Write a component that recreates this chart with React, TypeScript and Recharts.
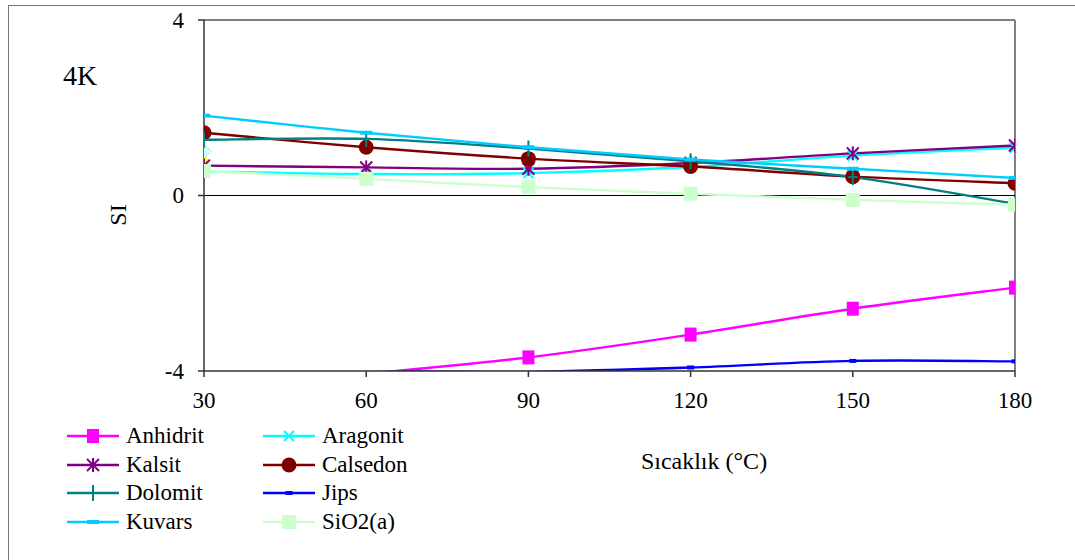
import React from 'react';
import { LineChart, Line, XAxis, YAxis, ReferenceLine } from 'recharts';

const temps = [30, 60, 90, 120, 150, 180];
const anhidrit = [-4.6, -4.08, -3.69, -3.17, -2.58, -2.1];
const aragonit = [0.55, 0.49, 0.51, 0.65, 0.91, 1.09];
const kalsit = [0.68, 0.64, 0.61, 0.74, 0.96, 1.14];
const calsedon = [1.43, 1.1, 0.84, 0.66, 0.43, 0.28];
const dolomit = [1.27, 1.29, 1.07, 0.78, 0.42, -0.19];
const jips = [-4.3, -4.03, -4.02, -3.92, -3.77, -3.78];
const kuvars = [1.82, 1.43, 1.1, 0.82, 0.61, 0.4];
const sio2 = [0.56, 0.38, 0.19, 0.04, -0.1, -0.21];
// two single points at 30 °C that have no legend entry
const extraDiamond = [1.01, null, null, null, null, null];
const extraTriangle = [0.84, null, null, null, null, null];
const yTicks = [-4, 0, 4];

const FONT = 'Liberation Serif';

type Shape = 'square' | 'x' | 'asterisk' | 'circle' | 'plus' | 'dashSmall' | 'dash' | 'bigSquare' | 'diamond' | 'triangle';

const series: { key: string; name: string; values: (number | null)[]; color: string; shape: Shape; legend: boolean }[] = [
  { key: 'tri', name: 'tri', values: extraTriangle, color: '#FFFF00', shape: 'triangle', legend: false },
  { key: 'dia', name: 'dia', values: extraDiamond, color: '#CCFFFF', shape: 'diamond', legend: false },
  { key: 'anhidrit', name: 'Anhidrit', values: anhidrit, color: '#FF00FF', shape: 'square', legend: true },
  { key: 'aragonit', name: 'Aragonit', values: aragonit, color: '#00FFFF', shape: 'x', legend: true },
  { key: 'kalsit', name: 'Kalsit', values: kalsit, color: '#800080', shape: 'asterisk', legend: true },
  { key: 'calsedon', name: 'Calsedon', values: calsedon, color: '#800000', shape: 'circle', legend: true },
  { key: 'dolomit', name: 'Dolomit', values: dolomit, color: '#008080', shape: 'plus', legend: true },
  { key: 'jips', name: 'Jips', values: jips, color: '#0000FF', shape: 'dashSmall', legend: true },
  { key: 'kuvars', name: 'Kuvars', values: kuvars, color: '#00CCFF', shape: 'dash', legend: true },
  { key: 'sio2', name: 'SiO2(a)', values: sio2, color: '#CCFFCC', shape: 'bigSquare', legend: true },
];

const data = temps.map((t, i) => {
  const row: any = { t };
  series.forEach((s) => (row[s.key] = s.values[i]));
  return row;
});

// Excel-like smoothed line (Catmull-Rom through the points)
function excelCurve(context: any) {
  let pts: number[][] = [];
  return {
    areaStart() {},
    areaEnd() {},
    lineStart() {
      pts = [];
    },
    point(x: number, y: number) {
      pts.push([+x, +y]);
    },
    lineEnd() {
      if (!pts.length) return;
      context.moveTo(pts[0][0], pts[0][1]);
      for (let i = 0; i < pts.length - 1; i++) {
        const p0 = pts[i - 1] || pts[i];
        const p1 = pts[i];
        const p2 = pts[i + 1];
        const p3 = pts[i + 2] || p2;
        context.bezierCurveTo(
          p1[0] + (p2[0] - p0[0]) / 6,
          p1[1] + (p2[1] - p0[1]) / 6,
          p2[0] - (p3[0] - p1[0]) / 6,
          p2[1] - (p3[1] - p1[1]) / 6,
          p2[0],
          p2[1]
        );
      }
    },
  };
}

function Marker({ shape, color, cx, cy }: { shape: Shape; color: string; cx: number; cy: number }) {
  switch (shape) {
    case 'square':
      return <rect x={cx - 6} y={cy - 7} width={12} height={14} fill={color} />;
    case 'bigSquare':
      return <rect x={cx - 7} y={cy - 7} width={14} height={14} fill={color} />;
    case 'x':
      return (
        <g stroke={color} strokeWidth={2}>
          <line x1={cx - 5} y1={cy - 5} x2={cx + 5} y2={cy + 5} />
          <line x1={cx - 5} y1={cy + 5} x2={cx + 5} y2={cy - 5} />
        </g>
      );
    case 'asterisk':
      return (
        <g stroke={color} strokeWidth={2}>
          <line x1={cx - 6} y1={cy - 6} x2={cx + 6} y2={cy + 6} />
          <line x1={cx - 6} y1={cy + 6} x2={cx + 6} y2={cy - 6} />
          <line x1={cx} y1={cy - 7} x2={cx} y2={cy + 7} />
        </g>
      );
    case 'circle':
      return <circle cx={cx} cy={cy} r={7.5} fill={color} />;
    case 'plus':
      return (
        <g stroke={color} strokeWidth={2}>
          <line x1={cx} y1={cy - 8} x2={cx} y2={cy + 8} />
          <line x1={cx - 5} y1={cy} x2={cx + 5} y2={cy} />
        </g>
      );
    case 'dashSmall':
      return <rect x={cx - 3.5} y={cy - 2} width={7} height={4} fill={color} />;
    case 'dash':
      return <rect x={cx - 6} y={cy - 2} width={12} height={4} fill={color} />;
    case 'diamond':
      return (
        <polygon
          points={`${cx},${cy - 7} ${cx + 7},${cy} ${cx},${cy + 7} ${cx - 7},${cy}`}
          fill={color}
          stroke="#BBDDEE"
          strokeWidth={1}
        />
      );
    case 'triangle':
      return <polygon points={`${cx},${cy - 6} ${cx + 6},${cy + 5} ${cx - 6},${cy + 5}`} fill={color} />;
  }
  return null;
}

function makeDot(s: (typeof series)[number]) {
  return (p: any) => {
    const v = p.payload ? p.payload[s.key] : null;
    if (v == null || v < -4 || v > 4 || p.cx == null || p.cy == null) return <g key={`${s.key}-${p.index}`} />;
    return (
      <g key={`${s.key}-${p.index}`}>
        <Marker shape={s.shape} color={s.color} cx={p.cx} cy={p.cy} />
      </g>
    );
  };
}

function LegendBox() {
  const items = series.filter((s) => s.legend);
  return (
    <div style={{ position: 'absolute', left: 50, top: 415, width: 420, height: 130 }}>
      {items.map((s, i) => {
        const col = i % 2;
        const row = Math.floor(i / 2);
        const x0 = 17 + col * 196;
        const y = 21 + row * 28.5;
        return (
          <div key={s.key}>
            <svg width={60} height={20} style={{ position: 'absolute', left: x0 - 4, top: y - 10 }}>
              <line x1={4} y1={10} x2={56} y2={10} stroke={s.color} strokeWidth={2.5} />
              <Marker shape={s.shape} color={s.color} cx={30} cy={10} />
            </svg>
            <div
              style={{
                position: 'absolute',
                left: x0 + 59,
                top: y - 14,
                fontFamily: FONT,
                fontSize: 23,
                lineHeight: '28px',
                whiteSpace: 'nowrap',
              }}
            >
              {s.name}
            </div>
          </div>
        );
      })}
    </div>
  );
}

function SerifTick(props: any) {
  const { x, y, payload, textAnchor, orientation } = props;
  const dy = orientation === 'bottom' ? 16 : 7.5;
  return (
    <text x={x} y={y + dy} textAnchor={textAnchor} fill="#000" fontSize={23} style={{ fontFamily: FONT }}>
      {payload.value}
    </text>
  );
}

export default function App() {
  return (
    <div style={{ position: 'relative', width: 1075, height: 560, overflow: 'hidden', background: '#fff' }}>
      <style>{'body{margin:0}'}</style>
      <div
        style={{
          position: 'absolute',
          left: 8,
          top: 5,
          width: 1120,
          height: 620,
          border: '1.5px solid #777',
        }}
      />
      <div style={{ position: 'absolute', left: 0, top: 0 }}>
        <LineChart width={1075} height={560} data={data} margin={{ top: 20, right: 60, left: 0, bottom: 0 }}>
          <ReferenceLine y={4} stroke="#808080" strokeWidth={2} ifOverflow="visible" />
          <ReferenceLine x={180} stroke="#808080" strokeWidth={2} ifOverflow="visible" />
          <ReferenceLine y={0} stroke="#000" strokeWidth={1} ifOverflow="visible" />
          <XAxis
            type="number"
            dataKey="t"
            domain={[30, 180]}
            ticks={temps}
            interval={0}
            allowDataOverflow
            height={189}
            tickSize={6}
            tickMargin={15}
            axisLine={{ stroke: '#333', strokeWidth: 1.5 }}
            tickLine={{ stroke: '#333', strokeWidth: 1.5 }}
            tick={<SerifTick />}
          />
          <YAxis
            type="number"
            domain={[-4, 4]}
            ticks={yTicks}
            interval={0}
            allowDataOverflow
            width={204}
            tickSize={6}
            tickMargin={14}
            axisLine={{ stroke: '#333', strokeWidth: 1.5 }}
            tickLine={{ stroke: '#333', strokeWidth: 1.5 }}
            tick={<SerifTick />}
          />
          {series.map((s) => (
            <Line
              key={s.key}
              dataKey={s.key}
              name={s.name}
              type={excelCurve as any}
              stroke={s.color}
              strokeWidth={2.4}
              dot={makeDot(s)}
              activeDot={false}
              isAnimationActive={false}
            />
          ))}
        </LineChart>
      </div>
      <div
        style={{
          position: 'absolute',
          left: 63,
          top: 58,
          fontFamily: FONT,
          fontSize: 28,
          lineHeight: '36px',
        }}
      >
        4K
      </div>
      <div
        style={{
          position: 'absolute',
          left: 118,
          top: 215,
          transform: 'translate(-50%, -50%) rotate(-90deg)',
          fontFamily: FONT,
          fontSize: 24,
          whiteSpace: 'nowrap',
        }}
      >
        SI
      </div>
      <div
        style={{
          position: 'absolute',
          left: 704,
          top: 461,
          transform: 'translate(-50%, -50%)',
          fontFamily: FONT,
          fontSize: 24,
          whiteSpace: 'nowrap',
        }}
      >
        Sıcaklık (°C)
      </div>
      <LegendBox />
    </div>
  );
}
